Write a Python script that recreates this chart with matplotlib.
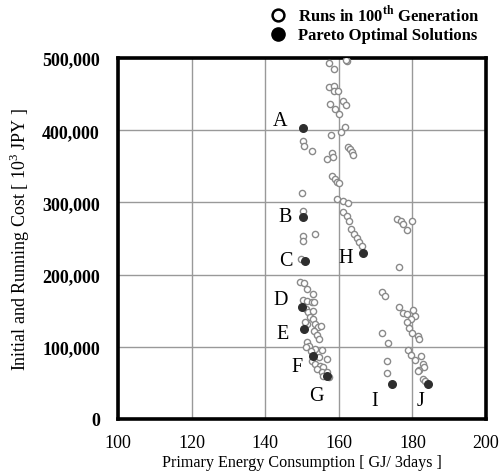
import matplotlib
matplotlib.use('Agg')
import matplotlib.pyplot as plt
from matplotlib.lines import Line2D
from matplotlib.ticker import FuncFormatter

plt.rcParams['font.family'] = ['Liberation Serif', 'DejaVu Serif']
plt.rcParams['mathtext.fontset'] = 'custom'
plt.rcParams['mathtext.rm'] = 'Liberation Serif'
plt.rcParams['mathtext.bf'] = 'Liberation Serif:bold'

# runs in the 100th generation (hollow circles)
runs_x = [157.4, 158.8, 162.1, 161.9, 157.4, 158.8, 158.8, 159.9, 157.6, 159.0,
          160.1, 161.2, 161.9, 157.8, 160.5, 161.7, 150.2, 150.5, 152.6, 156.7,
          158.1, 158.5, 162.6, 163.0, 163.5, 163.9, 158.1, 159.0, 159.4, 160.1,
          149.9, 159.6, 161.2, 162.6, 161.2, 162.1, 162.9, 163.3, 164.2, 165.0,
          165.6, 166.2, 150.2, 150.2, 150.4, 153.4, 149.7,
          175.9, 176.8, 177.5, 178.6, 179.8, 176.4, 171.7, 172.6, 176.4, 177.5,
          178.5, 180.1, 180.8, 179.5, 178.6, 179.2, 179.8, 181.6, 181.9, 171.7,
          173.4, 178.9, 179.5, 180.7, 182.3, 182.8, 183.2, 181.9, 181.6, 183.0,
          183.5, 173.1, 173.0,
          149.5, 150.5, 151.3, 153.1, 150.4, 151.3, 152.6, 153.3, 151.0, 151.7,
          152.9, 152.2, 153.1, 153.5, 154.4, 155.1, 151.3, 150.7, 153.3, 154.0,
          154.6, 151.3, 152.0, 151.1, 153.5, 155.4, 152.4, 154.7, 156.7, 152.6,
          153.5, 154.9, 155.8, 154.0, 155.4, 156.7, 155.8, 157.2]
runs_y = [492700, 484800, 495400, 497000, 460300, 461200, 454700, 453900, 436300, 429400,
          422400, 440900, 434900, 393800, 397100, 404800, 384600, 378500, 370800, 360100,
          368800, 362500, 377100, 374000, 369400, 365700, 337000, 332400, 328700, 326900,
          312600, 304700, 301500, 299600, 286300, 281600, 274700, 263200, 256000, 250300,
          244700, 239200, 288500, 253900, 247000, 256200, 221600,
          277000, 274700, 270100, 262200, 274700, 210100, 176300, 169900, 154700, 146800,
          145400, 151000, 143100, 138500, 133900, 125600, 119100, 115400, 110800, 119500,
          105300, 96000, 88600, 81700, 86800, 76200, 72400, 67900, 66100, 55400,
          53000, 79900, 63300,
          189300, 188400, 180100, 173100, 165200, 163900, 161600, 162000, 152400, 147800,
          150000, 140900, 138500, 131600, 127800, 128400, 131600, 134000, 122300, 116300,
          110800, 106200, 101500, 99300, 97000, 96000, 94600, 85500, 83100, 80700,
          76200, 73800, 72400, 69300, 65500, 64700, 60000, 57800]

# pareto optimal solutions (filled circles)
pareto_names = ['A', 'B', 'C', 'D', 'E', 'F', 'G', 'H', 'I', 'J']
pareto_x = [150.2, 150.4, 150.8, 149.9, 150.5, 152.9, 156.7, 166.7, 174.5, 184.2]
pareto_y = [403000, 279400, 219200, 155500, 124700, 87700, 60000, 229500, 48500, 48500]
label_x = [144.0, 145.4, 145.7, 144.3, 144.8, 148.6, 153.8, 162.0, 169.8, 182.3]
label_y = [414000, 281000, 219000, 166000, 118000, 73000, 33000, 224000, 25000, 25000]

fig = plt.figure(figsize=(4.99, 4.77), dpi=100)
ax = fig.add_axes([0.2365, 0.1195, 0.7375, 0.7565])

ax.scatter(runs_x, runs_y, s=20, facecolors='white', edgecolors='#8a8a8a',
           linewidths=1.0, zorder=3)
ax.scatter(pareto_x, pareto_y, s=30, color='#2e2e2e', zorder=4)
for name, lx, ly in zip(pareto_names, label_x, label_y):
    ax.text(lx, ly, name, fontsize=14.5, ha='center', va='center', zorder=5)

ax.set_xlim(100, 200)
ax.set_ylim(0, 500000)
ax.set_xticks(range(100, 201, 20))
ax.set_yticks(range(0, 500001, 100000))
ax.yaxis.set_major_formatter(FuncFormatter(lambda v, p: f"{int(v):,}"))
ax.grid(True, color='#999999', linewidth=1.0)
ax.set_axisbelow(True)
for sp in ax.spines.values():
    sp.set_linewidth(2.6)
ax.tick_params(axis='y', length=0, pad=13, labelsize=13)
ax.tick_params(axis='x', length=0, pad=11, labelsize=13)
for t in ax.get_yticklabels():
    t.set_fontweight('bold')

ax.set_xlabel('Primary Energy Consumption [ GJ/ 3days ]', fontsize=11.6, labelpad=2)
ax.set_ylabel('Initial and Running Cost [ 10$^3$ JPY ]', fontsize=13, labelpad=7)

handles = [
    Line2D([], [], ls='', marker='o', ms=8.5, mfc='white', mec='black', mew=1.8),
    Line2D([], [], ls='', marker='o', ms=9.5, mfc='black', mec='black'),
]
fig.legend(handles, ['Runs in 100$^{\\mathbf{th}}$ Generation', 'Pareto Optimal Solutions'],
           loc='upper left', bbox_to_anchor=(0.527, 1.003), frameon=False,
           prop={'weight': 'bold', 'size': 12}, handletextpad=0.7,
           labelspacing=0.15, handlelength=1.0, borderaxespad=0.0)

fig.savefig('out.png', dpi=100)
